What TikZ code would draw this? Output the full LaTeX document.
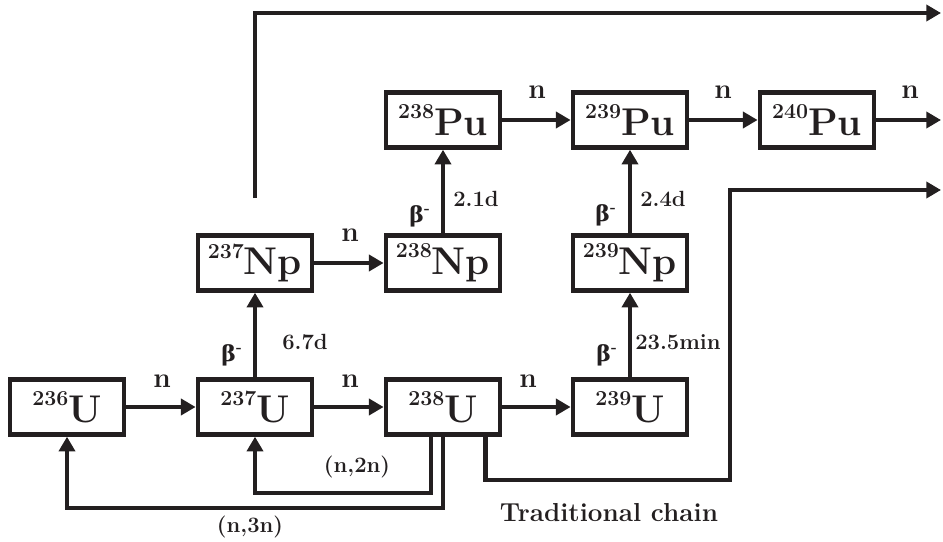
\documentclass[tikz,border=0pt]{standalone}
\usepackage{fontspec}
\usetikzlibrary{arrows.meta}
\newfontfamily\grk{DejaVu Serif}
\definecolor{Ink}{HTML}{231F20}
\newcommand{\nuc}[2]{\raisebox{12.5pt}{\fontsize{16}{16}\selectfont #1}{\fontsize{29}{29}\selectfont #2}}
\newcommand{\bminus}{{\grk β}\textsuperscript{-}}

\begin{document}
\begin{tikzpicture}[x=0.75pt,y=-0.75pt,color=Ink,
  box/.style={draw,line width=3.6pt,minimum width=85.5pt,minimum height=41pt,
    inner sep=0pt,font=\bfseries},
  arr/.style={-{Triangle[length=11pt,width=12pt]},line width=3.3pt},
  lbl/.style={font=\fontsize{21}{21}\selectfont\bfseries,inner sep=0pt},
  dk/.style={font=\fontsize{16.5}{16.5}\selectfont\bfseries,inner sep=0pt}
]
  \useasboundingbox (0,0) rectangle (943,542);
  % uranium row
  \node[box] (u236) at (67,407) {\nuc{236}{U}};
  \node[box] (u237) at (255,407) {\nuc{237}{U}};
  \node[box] (u238) at (443,407) {\nuc{238}{U}};
  \node[box] (u239) at (630,407) {\nuc{239}{U}};
  % neptunium row
  \node[box] (np237) at (255,263) {\nuc{237}{Np}};
  \node[box] (np238) at (443,263) {\nuc{238}{Np}};
  \node[box] (np239) at (630,263) {\nuc{239}{Np}};
  % plutonium row
  \node[box] (pu238) at (443,120) {\nuc{238}{Pu}};
  \node[box] (pu239) at (630,120) {\nuc{239}{Pu}};
  \node[box] (pu240) at (817,120) {\nuc{240}{Pu}};
  \coordinate (out1) at (941,120);
  \coordinate (out2) at (941,190);
  \coordinate (out3) at (941,13);
  \coordinate (npup) at (255,198);

  \draw[arr] (u236) -- (u237);
  \draw[arr] (u237) -- (u238);
  \draw[arr] (u238) -- (u239);
  \draw[arr] (np237) -- (np238);
  \draw[arr] (pu238) -- (pu239);
  \draw[arr] (pu239) -- (pu240);
  \draw[arr] (pu240) -- (out1);
  \draw[arr] (u237) -- (np237);
  \draw[arr] (u239) -- (np239);
  \draw[arr] (np238) -- (pu238);
  \draw[arr] (np239) -- (pu239);
  \draw[arr] (npup) |- (out3);
  \draw[arr] ([xshift=-9pt]u238.south) -- ++(0,56) -| (u237.south);
  \draw[arr] (u238.south) -- ++(0,71) -| (u236.south);
  \draw[arr] ([xshift=32pt]u238.south) -- ++(0,43) -| (730,190) -- (out2);

  % labels
  \node[lbl] (n1) at (162,381) {n};
  \node[lbl] (n2) at (350,381) {n};
  \node[lbl] (n3) at (528,381) {n};
  \node[lbl] (n4) at (350,235) {n};
  \node[lbl] (n5) at (537,92) {n};
  \node[lbl] (n6) at (723,92) {n};
  \node[lbl] (n7) at (910,92) {n};
  \node[dk] (b1) at (232,355) {\bminus};
  \node[dk] (b2) at (607,355) {\bminus};
  \node[dk] (b3) at (420,216) {\bminus};
  \node[dk] (b4) at (606,215) {\bminus};
  \node[dk,anchor=west] (t1) at (282,342) {6.7d};
  \node[dk,anchor=west] (t2) at (635,342) {23.5min};
  \node[dk,anchor=west] (t3) at (453,199) {2.1d};
  \node[dk,anchor=west] (t4) at (640,199) {2.4d};
  \node[dk] (r2) at (357,467) {(n,2n)};
  \node[dk] (r3) at (250,527) {(n,3n)};
  \node[lbl,font=\fontsize{19.5}{19.5}\selectfont\bfseries] (trad) at (609,513) {Traditional chain};
\end{tikzpicture}
\end{document}
